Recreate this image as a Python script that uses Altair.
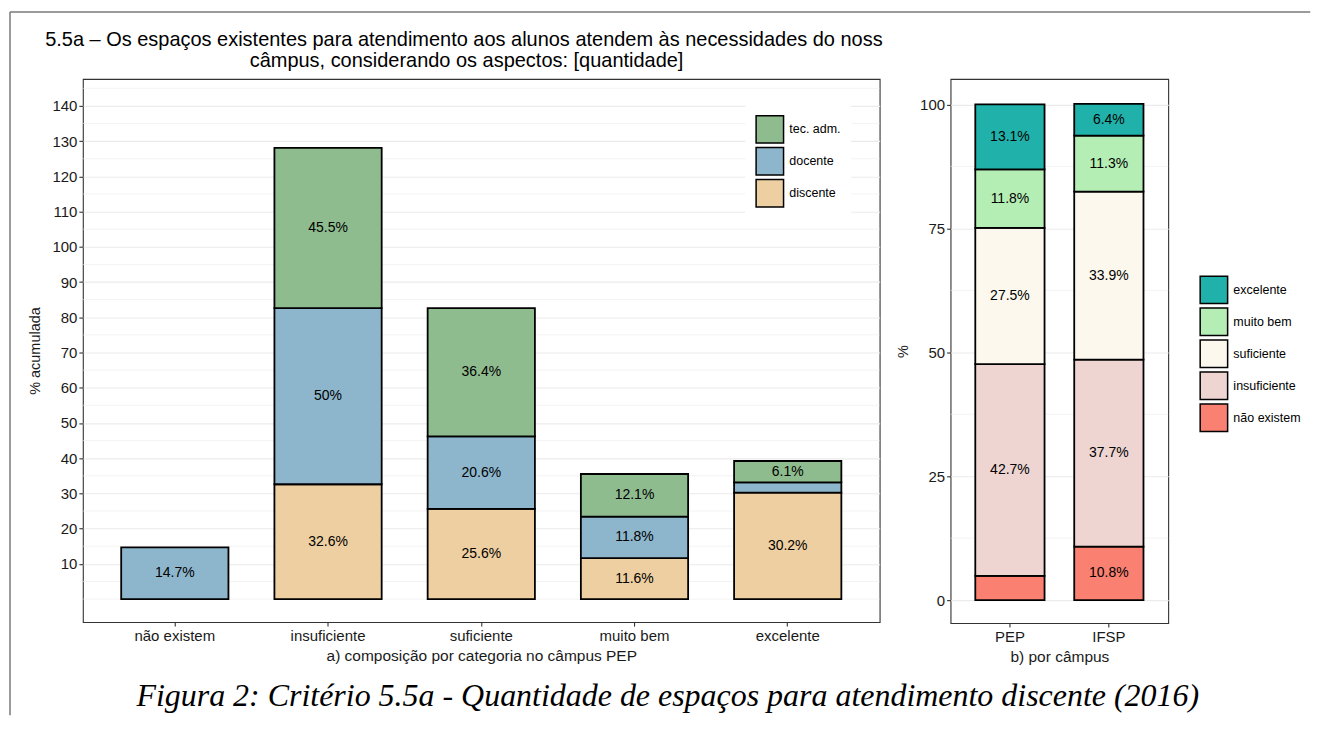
import altair as alt
import pandas as pd

# ---------------- data: panel a) composição por categoria no câmpus PEP
categories = ["não existem", "insuficiente", "suficiente", "muito bem", "excelente"]
groups = ["discente", "docente", "tec. adm."]            # stacking order, bottom -> top
discente = [0.0, 32.6, 25.6, 11.6, 30.2]
docente = [14.7, 50.0, 20.6, 11.8, 2.9]
tec_adm = [0.0, 45.5, 36.4, 12.1, 6.1]
group_legend = ["tec. adm.", "docente", "discente"]
group_colors = ["#8FBC8F", "#8DB6CD", "#EECFA1"]
left_ticks = [10, 20, 30, 40, 50, 60, 70, 80, 90, 100, 110, 120, 130, 140]
left_minor = [0, 5, 15, 25, 35, 45, 55, 65, 75, 85, 95, 105, 115, 125, 135, 145]

# ---------------- data: panel b) por câmpus
campi = ["PEP", "IFSP"]
levels = ["não existem", "insuficiente", "suficiente", "muito bem", "excelente"]  # bottom -> top
nao_existem = [4.9, 10.8]
insuficiente = [42.7, 37.7]
suficiente = [27.5, 33.9]
muito_bem = [11.8, 11.3]
excelente = [13.1, 6.4]
level_legend = ["excelente", "muito bem", "suficiente", "insuficiente", "não existem"]
level_colors = ["#20B2AA", "#B4EEB4", "#FDF8ED", "#EED5D2", "#FA8072"]
right_ticks = [0, 25, 50, 75, 100]
right_minor = [12.5, 37.5, 62.5, 87.5]

title_line1 = "5.5a – Os espaços existentes para atendimento aos alunos atendem às necessidades do nosso"
title_line2 = "câmpus, considerando os aspectos: [quantidade]"
caption = "Figura 2: Critério 5.5a - Quantidade de espaços para atendimento discente (2016)"

# ---------------- tables
left_rows = []
for i, c in enumerate(categories):
    for k, (g, vals) in enumerate(zip(groups, [discente, docente, tec_adm])):
        left_rows.append({"cat": c, "grp": g, "val": vals[i], "ord": k})
left_df = pd.DataFrame(left_rows)

right_rows = []
for i, c in enumerate(campi):
    for k, (lv, vals) in enumerate(zip(levels, [nao_existem, insuficiente, suficiente, muito_bem, excelente])):
        right_rows.append({"cam": c, "lvl": lv, "val": vals[i], "ord": k})
right_df = pd.DataFrame(right_rows)
one = pd.DataFrame({"a": [0]})

# ---------------- layout constants (pixels)
LEFT_W, LEFT_H = 798, 544
RIGHT_W, RIGHT_H = 218, 545
GAP = 71
LOX, LOY = 81.75, 78.75                 # page position of left plot origin
ROX, ROY = LOX + LEFT_W + GAP, LOY      # page position of right plot origin
FONT = "Liberation Sans"

legend_common = dict(orient="none", title=None, symbolType="square", symbolSize=756,
                     symbolStrokeColor="black", symbolStrokeWidth=1.5, symbolOpacity=1,
                     labelFont=FONT, labelFontSize=12.5, labelColor="black",
                     labelOffset=5, rowPadding=-3.5)

# ---------------- left panel
xs_l = alt.Scale(paddingInner=0.3, paddingOuter=0.25)
ys_l = alt.Scale(domain=[-6.54, 147.66], nice=False, zero=False)
xa_l = alt.Axis(title="a) composição por categoria no câmpus PEP", labelAngle=0)
ya_l = alt.Axis(values=left_ticks, title="% acumulada", titleFontSize=14.5, titlePadding=9)

base_l = (alt.Chart(left_df)
          .transform_filter("datum.val > 0")
          .transform_stack(stack="val", groupby=["cat"], as_=["y0", "y1"],
                           sort=[alt.SortField("ord", order="ascending")]))

minor_l = alt.Chart(pd.DataFrame({"m": left_minor})).mark_rule(
    color="#EBEBEB", strokeWidth=0.6).encode(y=alt.Y("m:Q", scale=ys_l, axis=ya_l))

bars_l = base_l.mark_bar(stroke="black", strokeWidth=1.8).encode(
    x=alt.X("cat:N", sort=categories, scale=xs_l, axis=xa_l),
    y=alt.Y("y0:Q", scale=ys_l, axis=ya_l),
    y2="y1:Q",
    color=alt.Color("grp:N", scale=alt.Scale(domain=group_legend, range=group_colors),
                    legend=alt.Legend(legendX=663.5, legendY=26, padding=10,
                                      fillColor="white", **legend_common)),
)

text_l = base_l.transform_filter("datum.val >= 5").transform_calculate(
    mid="(datum.y0 + datum.y1) / 2", lab="datum.val + '%'"
).mark_text(font=FONT, fontSize=14, color="black", baseline="middle").encode(
    x=alt.X("cat:N", sort=categories, scale=xs_l, axis=xa_l),
    y=alt.Y("mid:Q", scale=ys_l, axis=ya_l),
    text="lab:N",
)

t1 = alt.Chart(one).mark_text(align="left", baseline="alphabetic", font=FONT, fontSize=20,
                              color="black", limit=888 - 44, ellipsis="\u200b").encode(
    x=alt.value(44 - LOX), y=alt.value(45.5 - LOY), text=alt.value(title_line1))
t2 = alt.Chart(one).mark_text(align="center", baseline="alphabetic", font=FONT, fontSize=20,
                              color="black").encode(
    x=alt.value(466 - LOX), y=alt.value(66.5 - LOY), text=alt.value(title_line2))

left = alt.layer(minor_l, bars_l, text_l, t1, t2).properties(width=LEFT_W, height=LEFT_H)

# ---------------- right panel
xs_r = alt.Scale(paddingInner=0.3, paddingOuter=0.25)
ys_r = alt.Scale(domain=[-4.64, 105.15], nice=False, zero=False)
xa_r = alt.Axis(title="b) por câmpus", labelAngle=0)
ya_r = alt.Axis(values=right_ticks, title="%", titleFontSize=14.5, titlePadding=9)

base_r = (alt.Chart(right_df)
          .transform_stack(stack="val", groupby=["cam"], as_=["y0", "y1"],
                           sort=[alt.SortField("ord", order="ascending")]))

minor_r = alt.Chart(pd.DataFrame({"m": right_minor})).mark_rule(
    color="#EBEBEB", strokeWidth=0.6).encode(y=alt.Y("m:Q", scale=ys_r, axis=ya_r))

bars_r = base_r.mark_bar(stroke="black", strokeWidth=1.8).encode(
    x=alt.X("cam:N", sort=campi, scale=xs_r, axis=xa_r),
    y=alt.Y("y0:Q", scale=ys_r, axis=ya_r),
    y2="y1:Q",
    color=alt.Color("lvl:N", scale=alt.Scale(domain=level_legend, range=level_colors),
                    legend=alt.Legend(legendX=1200 - ROX, legendY=275.5 - ROY, padding=0,
                                      **legend_common)),
)

text_r = base_r.transform_filter("datum.val >= 5").transform_calculate(
    mid="(datum.y0 + datum.y1) / 2", lab="datum.val + '%'"
).mark_text(font=FONT, fontSize=14, color="black", baseline="middle").encode(
    x=alt.X("cam:N", sort=campi, scale=xs_r, axis=xa_r),
    y=alt.Y("mid:Q", scale=ys_r, axis=ya_r),
    text="lab:N",
)

# page frame lines and figure caption (drawn in pixel space)
frame_top = alt.Chart(one).mark_rule(color="#7a7a7a", strokeWidth=1.5).encode(
    x=alt.value(8.75 - ROX), x2=alt.value(1311 - ROX), y=alt.value(11.75 - ROY))
frame_left = alt.Chart(one).mark_rule(color="#7a7a7a", strokeWidth=1.5).encode(
    x=alt.value(8.75 - ROX), y=alt.value(11.75 - ROY), y2=alt.value(716 - ROY))
cap = alt.Chart(one).mark_text(align="center", baseline="alphabetic", font="Liberation Serif",
                               fontStyle="italic", fontSize=32, color="black").encode(
    x=alt.value(667.5 - ROX), y=alt.value(707 - ROY), text=alt.value(caption))

right = alt.layer(minor_r, bars_r, text_r, frame_top, frame_left, cap).properties(
    width=RIGHT_W, height=RIGHT_H)

chart = (alt.hconcat(left, right, spacing=GAP, bounds="flush")
         .resolve_scale(color="independent")
         .properties(padding={"left": 0, "top": 1.5, "right": 0, "bottom": 0})
         .configure_view(stroke="#333333", strokeWidth=1.1)
         .configure_axis(domain=False, tickColor="#333333", tickWidth=1.1, tickSize=4,
                         labelFont=FONT, labelFontSize=15, labelColor="#1a1a1a", labelPadding=2,
                         titleFont=FONT, titleFontSize=15.5, titleFontWeight="normal",
                         titleColor="#1a1a1a", titlePadding=5,
                         gridColor="#EBEBEB", gridWidth=1.1))

chart.save("out.html", embed_options={"renderer": "svg", "actions": False})
